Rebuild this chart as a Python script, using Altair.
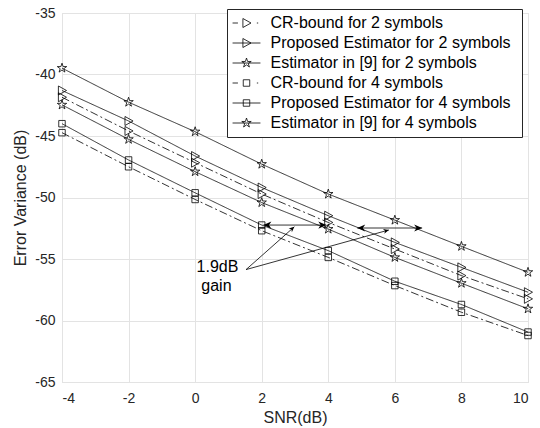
import math
import altair as alt
import pandas as pd

# ---------------- data ----------------
snr = [-4, -2, 0, 2, 4, 6, 8, 10]

series_names = [
    "CR-bound for 2 symbols",
    "Proposed Estimator for 2 symbols",
    "Estimator in [9] for 2 symbols",
    "CR-bound for 4 symbols",
    "Proposed Estimator  for 4 symbols",
    "Estimator in [9] for 4 symbols",
]
crb2 = [-41.85, -44.59, -47.17, -49.72, -52.03, -54.19, -56.35, -58.24]
prop2 = [-41.30, -43.78, -46.63, -49.19, -51.48, -53.65, -55.68, -57.70]
est2 = [-39.48, -42.25, -44.65, -47.29, -49.72, -51.84, -53.97, -56.08]
crb4 = [-44.73, -47.50, -50.16, -52.70, -54.87, -57.16, -59.33, -61.22]
prop4 = [-44.00, -46.95, -49.62, -52.24, -54.32, -56.81, -58.70, -60.94]
est4 = [-42.47, -45.27, -47.90, -50.41, -52.57, -54.87, -56.97, -59.05]
series_values = [crb2, prop2, est2, crb4, prop4, est4]

# annotation: double arrows (horizontal) showing the gain
arrow_y = [-52.24, -52.48]
arrow_x_left = [2.05, 4.87]
arrow_x_right = [3.94, 6.82]
# pointer lines from the text to the arrows
ptr_x0 = [1.53, 1.53]
ptr_y0 = [-55.86, -55.86]
ptr_x1 = [2.98, 5.82]
ptr_y1 = [-52.38, -52.64]
# annotation text
ann_text = ["1.9dB", "gain"]
ann_x = [0.67, 0.64]
ann_y = [-55.68, -57.16]

x_ticks = [-4, -2, 0, 2, 4, 6, 8, 10]
y_ticks = [-65, -60, -55, -50, -45, -40, -35]

# ---------------- styles ----------------
W, H = 466, 369
INK = "#262626"
FONT = "Liberation Sans"

TRI = "M-0.8,-1L1,0L-0.8,1Z"
SQ = "M-0.72,-0.72H0.72V0.72H-0.72Z"
STAR = ("M0,-1.1L0.247,-0.34L1.046,-0.34L0.399,0.13L0.647,0.89L0,0.42"
        "L-0.647,0.89L-0.399,0.13L-1.046,-0.34L-0.247,-0.34Z")
marker_paths = [TRI, TRI, STAR, SQ, SQ, STAR]

SOLID = "M-3.1,0H3.1"
DASHDOT_L = "M-3.1,0H-1.9"
DASHDOT_R = "M2.3,0H2.6"
legend_paths = [
    DASHDOT_L + TRI + DASHDOT_R,
    SOLID + TRI,
    SOLID + STAR,
    DASHDOT_L + SQ + DASHDOT_R,
    SOLID + SQ,
    SOLID + STAR,
]
dashes = [[8, 3, 2, 3], [1, 0], [1, 0], [8, 3, 2, 3], [1, 0], [1, 0]]

RIGHT_HEAD = "M0,0L-2,-0.9L-1.4,0L-2,0.9Z"
LEFT_HEAD = "M0,0L2,-0.9L1.4,0L2,0.9Z"

# ---------------- tables ----------------
rows = []
for name, vals in zip(series_names, series_values):
    for xv, yv in zip(snr, vals):
        rows.append({"snr": xv, "err": yv, "series": name})
df = pd.DataFrame(rows)

arrows = pd.DataFrame({"xl": arrow_x_left, "xr": arrow_x_right, "y": arrow_y})
ptrs = pd.DataFrame({"x0": ptr_x0, "y0": ptr_y0, "x1": ptr_x1, "y1": ptr_y1})
texts = pd.DataFrame({"t": ann_text, "x": ann_x, "y": ann_y})

xscale = alt.Scale(domain=[-4, 10], nice=False)
yscale = alt.Scale(domain=[-65, -35], nice=False)

xaxis = alt.Axis(
    title="SNR(dB)", values=x_ticks, grid=True, gridColor="#e3e3e3", gridWidth=1,
    domain=False, ticks=False, labelPadding=9, labelFontSize=14, labelColor=INK,
    labelFont=FONT, titleFont=FONT, titleFontSize=16, titleFontWeight="normal",
    titleColor=INK, titlePadding=4, labelExpr="'' + datum.value",
)
yaxis = alt.Axis(
    title="Error Variance (dB)", values=y_ticks, grid=True, gridColor="#e3e3e3",
    gridWidth=1, domain=False, ticks=False, labelPadding=7, labelFontSize=14,
    labelColor=INK, labelFont=FONT, titleFont=FONT, titleFontSize=16,
    titleFontWeight="normal", titleColor=INK, titlePadding=6,
    labelExpr="'' + datum.value",
)

X = alt.X("snr:Q", scale=xscale, axis=xaxis)
Y = alt.Y("err:Q", scale=yscale, axis=yaxis)

lines = alt.Chart(df).mark_line(color="black", strokeWidth=0.8).encode(
    x=X, y=Y,
    detail="series:N",
    strokeDash=alt.StrokeDash(
        "series:N",
        scale=alt.Scale(domain=series_names, range=dashes),
        legend=None,
    ),
)

points = alt.Chart(df).mark_point(
    filled=False, color="black", strokeWidth=0.8, size=81, opacity=1
).encode(
    x=X, y=Y,
    shape=alt.Shape(
        "series:N",
        scale=alt.Scale(domain=series_names, range=marker_paths),
        legend=None,
    ),
)

legend_layer = alt.Chart(df).transform_filter("datum.snr > 1000").mark_point(
    filled=False, color="black", strokeWidth=0.8, size=81, opacity=1
).encode(
    x=X, y=Y,
    shape=alt.Shape(
        "series:N",
        scale=alt.Scale(domain=series_names, range=legend_paths),
        legend=alt.Legend(
            title=None, orient="none", legendX=165, legendY=-4,
            direction="vertical", padding=6, symbolOffset=5.5,
            labelOffset=16, symbolSize=81, symbolStrokeWidth=0.8,
            symbolStrokeColor="black", symbolFillColor="transparent",
            labelFont=FONT, labelFontSize=16, labelColor="black",
            rowPadding=4, strokeColor=INK, fillColor="white",
            labelLimit=400,
        ),
    ),
)

arrow_lines = alt.Chart(arrows).mark_rule(color="black", strokeWidth=0.8).encode(
    x=alt.X("xl:Q", scale=xscale), x2="xr:Q", y=alt.Y("y:Q", scale=yscale)
)
heads_r = alt.Chart(arrows).mark_point(
    shape=RIGHT_HEAD, filled=True, color="black", size=64, opacity=1
).encode(x=alt.X("xr:Q", scale=xscale), y=alt.Y("y:Q", scale=yscale))
heads_l = alt.Chart(arrows).mark_point(
    shape=LEFT_HEAD, filled=True, color="black", size=64, opacity=1
).encode(x=alt.X("xl:Q", scale=xscale), y=alt.Y("y:Q", scale=yscale))

ptr_lines = alt.Chart(ptrs).mark_rule(color="black", strokeWidth=0.8).encode(
    x=alt.X("x0:Q", scale=xscale), y=alt.Y("y0:Q", scale=yscale),
    x2="x1:Q", y2="y1:Q",
)


def px(x):
    return (x + 4) / 14 * W


def py(y):
    return (-35 - y) / 30 * H


ptr_heads = []
for i in range(len(ptr_x0)):
    ang = math.degrees(math.atan2(py(ptr_y1[i]) - py(ptr_y0[i]),
                                  px(ptr_x1[i]) - px(ptr_x0[i]))) % 360
    ptr_heads.append(
        alt.Chart(ptrs.iloc[[i]]).mark_point(
            shape=RIGHT_HEAD, filled=True, color="black", size=30, opacity=1,
            angle=ang,
        ).encode(x=alt.X("x1:Q", scale=xscale), y=alt.Y("y1:Q", scale=yscale))
    )

labels = alt.Chart(texts).mark_text(
    font=FONT, fontSize=16, color="black", align="center", baseline="middle"
).encode(x=alt.X("x:Q", scale=xscale), y=alt.Y("y:Q", scale=yscale), text="t:N")

chart = alt.layer(
    lines, points, arrow_lines, heads_r, heads_l, ptr_lines, *ptr_heads, labels,
    legend_layer,
).resolve_scale(shape="independent").properties(
    width=W, height=H,
    autosize=alt.AutoSizeParams(type="none"),
    padding={"left": 62, "top": 13, "right": 12, "bottom": 46},
).configure_view(stroke=INK, strokeWidth=1).configure(background="white")

chart.save("out.html", embed_options={"renderer": "svg", "actions": False})
